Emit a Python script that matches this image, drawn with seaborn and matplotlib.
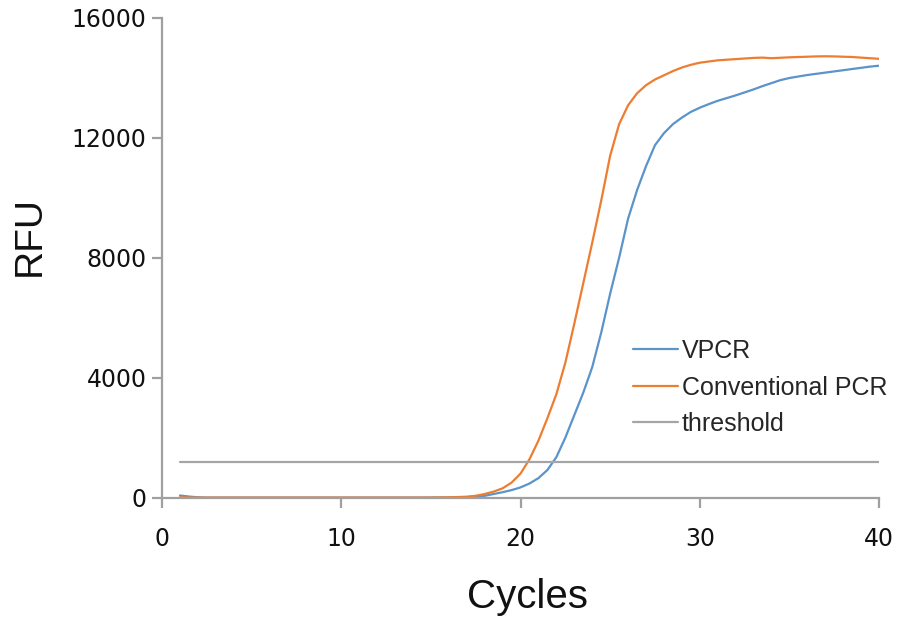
import matplotlib
matplotlib.use("Agg")
import matplotlib.pyplot as plt
import seaborn as sns
import pandas as pd

# Amplification curves, RFU read every half cycle from cycle 1 to 40
cycles = [1 + 0.5 * i for i in range(79)]
vpcr = [70, 35, 10, 0, 0, 0, 0, 0, 0, 0,
        0, 0, 0, 0, 0, 0, 0, 0, 0, 0,
        0, 0, 0, 0, 0, 0, 0, 0, 0, 3, 5, 10,
        15, 35, 60, 120, 180, 250, 340, 470, 650, 920,
        1350, 2000, 2750, 3500, 4350, 5500, 6800, 8000, 9300, 10250,
        11050, 11750, 12150, 12450, 12670, 12860, 13000, 13120, 13230, 13320,
        13410, 13510, 13610, 13720, 13820, 13920, 13990, 14040, 14090, 14130,
        14170, 14210, 14250, 14290, 14330, 14370, 14400]
conventional = [10, 5, 0, 0, 0, 0, 0, 0, 0, 0,
                0, 0, 0, 0, 0, 0, 0, 0, 0, 0,
                0, 0, 0, 0, 0, 0, 0, 0, 3, 5, 10, 18,
                30, 60, 120, 200, 310, 500, 800, 1280, 1900, 2650,
                3450, 4500, 5800, 7150, 8500, 9900, 11400, 12450, 13080, 13480,
                13750, 13940, 14080, 14220, 14340, 14430, 14500, 14540, 14580, 14600,
                14620, 14640, 14660, 14670, 14650, 14665, 14680, 14690, 14700, 14710,
                14715, 14710, 14700, 14690, 14670, 14650, 14630]
threshold_value = 1200
threshold_span = [1, 40]

series_names = ["VPCR", "Conventional PCR", "threshold"]
colors = {"VPCR": "#5B93CB", "Conventional PCR": "#ED7D31", "threshold": "#A5A5A5"}

x_ticks = [0, 10, 20, 30, 40]
y_ticks = [0, 4000, 8000, 12000, 16000]

df = pd.concat([
    pd.DataFrame({"Cycles": cycles, "RFU": vpcr, "series": "VPCR"}),
    pd.DataFrame({"Cycles": cycles, "RFU": conventional, "series": "Conventional PCR"}),
    pd.DataFrame({"Cycles": threshold_span, "RFU": [threshold_value] * 2, "series": "threshold"}),
])

sns.set_style("ticks")
plt.rcParams["font.family"] = ["Liberation Sans", "DejaVu Sans"]

fig = plt.figure(figsize=(9.17, 6.22), dpi=100)
ax = fig.add_axes([0.1767, 0.2, 0.9586 - 0.1767, 0.9715 - 0.2])

sns.lineplot(data=df, x="Cycles", y="RFU", hue="series", hue_order=series_names,
             palette=colors, linewidth=1.6, ax=ax, legend=True)

ax.set_xlim(0, 40)
ax.set_ylim(0, 16000)
ax.set_xticks(x_ticks)
ax.set_yticks(y_ticks)

spine_color = "#A0A0A0"
for side in ["top", "right"]:
    ax.spines[side].set_visible(False)
for side in ["left", "bottom"]:
    ax.spines[side].set_color(spine_color)
    ax.spines[side].set_linewidth(1.6)

ax.tick_params(axis="both", colors=spine_color, labelcolor="#111111",
               labelsize=17, length=7, width=1.6, direction="out")
ax.tick_params(axis="x", pad=14)
ax.tick_params(axis="y", pad=4)
for lab in ax.get_xticklabels() + ax.get_yticklabels():
    lab.set_fontfamily("DejaVu Sans")

ax.set_xlabel("Cycles", fontsize=29, color="#111111")
ax.set_ylabel("RFU", fontsize=28, color="#111111")
ax.xaxis.set_label_coords(0.51, -0.168)
ax.yaxis.set_label_coords(-0.16, 0.545)

leg = ax.legend(loc="upper left", bbox_to_anchor=(0.657, 0.33), frameon=False,
                fontsize=18, handlelength=1.8, handletextpad=0.15,
                labelspacing=0.5, borderpad=0, borderaxespad=0)
for line in leg.get_lines():
    line.set_linewidth(1.6)

fig.savefig("out.png", dpi=100)
